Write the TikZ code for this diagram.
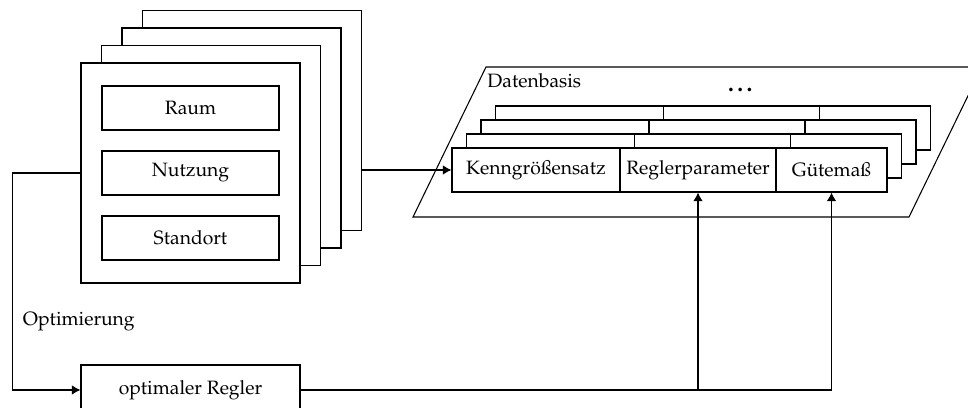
\documentclass[tikz,border=0pt]{standalone}
\usepackage[T1]{fontenc}
\usepackage{mathpazo}
\usepackage{tikz}
\usetikzlibrary{arrows.meta}

\begin{document}
\begin{tikzpicture}[x=0.0182cm,y=-0.0182cm,line width=0.55pt,
  box/.style={draw, fill=white, inner sep=0pt},
  pfeil/.style={-{Latex[length=4.5pt,width=5pt]}}]
\clip (0,0) rectangle (968,408);
% Datenbasis
\draw (413,217) -- (486,67) -- (982,67) -- (909,217) -- cycle;
\node[anchor=west, inner sep=1pt] (datenbasis) at (485,81) {Datenbasis};
\node (dots) at (742,90) {\large\textbf{\dots}};
\foreach \i in {3,2,1} {
\begin{scope}[shift={(14.5*\i,-14*\i)}]
\draw[fill=white] (452,148) rectangle (887,192);
\draw (620,148) -- (620,192);
\draw (776,148) -- (776,192);
\end{scope}
}
\node[box, minimum width=3.058cm, minimum height=0.801cm] (kenn) at (536,170) {Kenngr\"o\ss ensatz};
\node[box, minimum width=2.839cm, minimum height=0.801cm] (param) at (698,170) {Reglerparameter};
\node[box, minimum width=2.020cm, minimum height=0.801cm] (guete) at (831.5,170) {G\"utema\ss};
% Stapel
\foreach \i in {3,2,1} {
\node[box, minimum width=3.986cm, minimum height=4.004cm] (lage\i) at (190.5+20.5*\i, 173-17.5*\i) {};
}
\node[box, minimum width=3.986cm, minimum height=4.004cm] (karte) at (190.5,173) {};
\node[box, minimum width=3.221cm, minimum height=0.801cm] (raum) at (190.5,108) {Raum};
\node[box, minimum width=3.221cm, minimum height=0.801cm] (nutzung) at (190.5,173) {Nutzung};
\node[box, minimum width=3.221cm, minimum height=0.801cm] (standort) at (190.5,238) {Standort};
\node[box, minimum width=3.986cm, minimum height=0.91cm] (regler) at (190.5,390) {optimaler Regler};
\node[anchor=west] (opt) at (16,322) {Optimierung};
% Verbindungen
\draw[pfeil] (lage3.east |- kenn.west) -- (kenn.west);
\draw[pfeil] (karte.west) -- ++(-68,0) |- (regler.west);
\draw[pfeil] (regler.east) -| (guete.south);
\draw[pfeil] (param.south |- regler.east) -- (param.south);
\end{tikzpicture}
\end{document}
